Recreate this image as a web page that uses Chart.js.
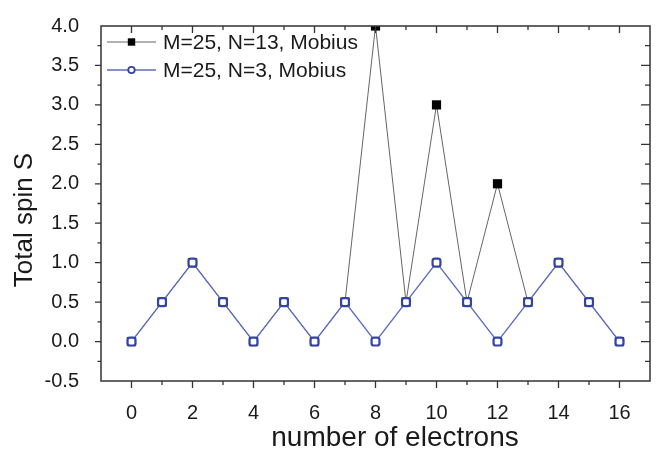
<!DOCTYPE html>
<html>
<head>
<meta charset="utf-8">
<script src="https://cdn.jsdelivr.net/npm/chart.js@4.4.0/dist/chart.umd.min.js"></script>
<style>
    html, body { margin: 0; padding: 0; background: #fff; overflow: hidden; }
    #wrap { position: relative; width: 662px; height: 453px; }
</style>
</head>
<body>
<div id="wrap"><canvas id="spinChart"></canvas></div>
<script>
// values
const electrons = [0, 1, 2, 3, 4, 5, 6, 7, 8, 9, 10, 11, 12, 13, 14, 15, 16];
const spinN13 = [0, 0.5, 1, 0.5, 0, 0.5, 0, 0.5, 4, 0.5, 3, 0.5, 2, 0.5, 1, 0.5, 0];
const spinN3 = [0, 0.5, 1, 0.5, 0, 0.5, 0, 0.5, 0, 0.5, 1, 0.5, 0, 0.5, 1, 0.5, 0];
const seriesNames = ['M=25, N=13, Mobius', 'M=25, N=3, Mobius'];
const xTickLabels = ['0', '2', '4', '6', '8', '10', '12', '14', '16'];
const yTickLabels = ['-0.5', '0.0', '0.5', '1.0', '1.5', '2.0', '2.5', '3.0', '3.5', '4.0'];
const xTitle = 'number of electrons';
const yTitle = 'Total spin S';

const FONT = "'Liberation Sans', Arial, Helvetica, sans-serif";
const INK = '#1a1a1a';


function toPoints(values){
    let pts = [];
    for(let i = 0; i < electrons.length; i++){
        pts.push({x: electrons[i], y: values[i]});
    };
    return pts;
};


// frame, tick marks, axis titles and the in-plot legend
const framePlugin = {
    id: 'frame',
    afterDraw(chart){
        const ctx = chart.ctx;
        const area = chart.chartArea;
        const xs = chart.scales.x;
        const ys = chart.scales.y;

        ctx.save();
        ctx.strokeStyle = '#333';
        ctx.lineWidth = 1.5;
        ctx.strokeRect(area.left, area.top, area.right - area.left, area.bottom - area.top);

        ctx.lineWidth = 1.3;
        ctx.beginPath();
        xs.ticks.forEach(function(t){
            if(t.value <= xs.min || t.value >= xs.max){ return; };
            const px = xs.getPixelForValue(t.value);
            const len = (t.value % 2 === 0) ? 7 : 4;
            ctx.moveTo(px, area.bottom);
            ctx.lineTo(px, area.bottom + len);
            ctx.moveTo(px, area.top);
            ctx.lineTo(px, area.top + len);
        });
        ys.ticks.forEach(function(t){
            if(t.value <= ys.min || t.value >= ys.max){ return; };
            const py = ys.getPixelForValue(t.value);
            const major = Math.abs(t.value * 2 - Math.round(t.value * 2)) < 1e-6;
            ctx.moveTo(area.left, py);
            ctx.lineTo(area.left - (major ? 6 : 3.5), py);
            ctx.moveTo(area.right, py);
            ctx.lineTo(area.right - (major ? 9 : 5), py);
        });
        ctx.stroke();

        // axis titles
        ctx.fillStyle = INK;
        ctx.font = '28px ' + FONT;
        ctx.textAlign = 'center';
        ctx.textBaseline = 'alphabetic';
        ctx.fillText(xTitle, 395, 446);

        ctx.font = '26px ' + FONT;
        ctx.save();
        ctx.translate(32, 220);
        ctx.rotate(-Math.PI / 2);
        ctx.fillText(yTitle, 0, 0);
        ctx.restore();

        // legend
        ctx.font = '21px ' + FONT;
        ctx.textAlign = 'left';
        ctx.textBaseline = 'middle';
        chart.data.datasets.forEach(function(ds, i){
            const y = 42 + i * 28;
            ctx.strokeStyle = ds.borderColor;
            ctx.lineWidth = ds.borderWidth;
            ctx.beginPath();
            ctx.moveTo(107, y);
            ctx.lineTo(156, y);
            ctx.stroke();

            if(ds.pointStyle === 'rect'){
                ctx.fillStyle = ds.pointBackgroundColor;
                ctx.fillRect(131.5 - 3.7, y - 3.7, 7.4, 7.4);
            }
            else{
                ctx.fillStyle = '#fff';
                ctx.strokeStyle = ds.pointBorderColor;
                ctx.lineWidth = 1.8;
                ctx.beginPath();
                ctx.arc(131.5, y, 3.2, 0, Math.PI * 2);
                ctx.fill();
                ctx.stroke();
            };

            ctx.fillStyle = INK;
            ctx.fillText(ds.label, 163, y + 1);
        });
        ctx.restore();
    }
};


function buildSpinChart(){

    const canvas = document.getElementById('spinChart').getContext('2d');
    let spinChart = new Chart(canvas, {

        type: 'line',

        data: {
            datasets: [{
                label: seriesNames[0],
                data: toPoints(spinN13),
                borderColor: '#666',
                borderWidth: 1,
                pointStyle: 'rect',
                pointRadius: 6.5,
                pointBackgroundColor: '#000',
                pointBorderColor: '#000',
                pointBorderWidth: 0,
                order: 2
            },
            {
                label: seriesNames[1],
                data: toPoints(spinN3),
                borderColor: '#5d6cbd',
                borderWidth: 1.4,
                pointStyle: 'rectRounded',
                pointRadius: 4.6,
                pointBackgroundColor: '#fff',
                pointBorderColor: '#3443a6',
                pointBorderWidth: 2.2,
                order: 1
            }]
        },
        options: {
            responsive: true,
            maintainAspectRatio: false,
            animation: false,
            events: [],
            layout: {
                padding: {
                    left: 0,
                    right: 3,
                    top: 17,
                    bottom: 0
                }
            },
            scales: {
                x: {
                    type: 'linear',
                    min: -1,
                    max: 17,
                    grid: { display: false },
                    border: { display: false },
                    afterFit: function(scale){ scale.height = 72; },
                    ticks: {
                        stepSize: 1,
                        autoSkip: false,
                        maxRotation: 0,
                        padding: 12,
                        color: INK,
                        font: { family: FONT, size: 20 },
                        callback: function(value){
                            let s = String(value);
                            return xTickLabels.includes(s) ? s : '';
                        }
                    }
                },
                y: {
                    min: -0.5,
                    max: 4,
                    grid: { display: false },
                    border: { display: false },
                    afterFit: function(scale){ scale.width = 101; },
                    ticks: {
                        stepSize: 0.25,
                        autoSkip: false,
                        padding: 14,
                        color: INK,
                        font: { family: FONT, size: 20 },
                        callback: function(value){
                            let s = value.toFixed(1);
                            if(Math.abs(value * 2 - Math.round(value * 2)) > 1e-6){ return ''; };
                            return yTickLabels.includes(s) ? s : '';
                        }
                    }
                }
            },
            plugins: {
                legend: { display: false },
                tooltip: { enabled: false }
            }
        },
        plugins: [framePlugin]
    });
};

window.addEventListener('load', function(){
    buildSpinChart();
});
</script>
</body>
</html>
